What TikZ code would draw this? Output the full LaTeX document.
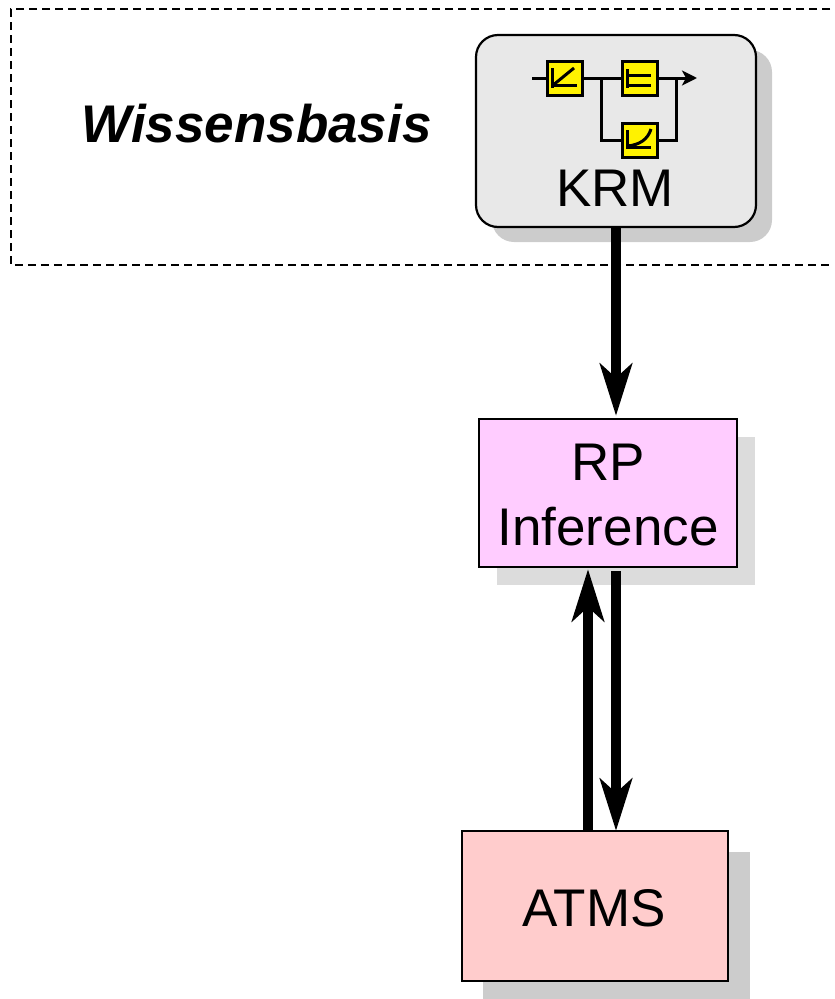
\documentclass[tikz,border=0pt]{standalone}
\usepackage{fontspec}
\setmainfont{Liberation Sans}
\usetikzlibrary{arrows.meta}

\begin{document}
\begin{tikzpicture}[x=1pt,y=-1pt,
box/.style={shape=rectangle,draw=black,line width=2.2pt,inner sep=0pt,align=center,font=\fontsize{53}{65}\selectfont},
rpbox/.style={box,fill=rpfill,minimum width=258pt,minimum height=148pt},
atmsbox/.style={box,fill=atmsfill,minimum width=266pt,minimum height=150pt},
krmbox/.style={box,fill=krmfill,rounded corners=22pt,minimum width=280pt,minimum height=192pt},
ctrl/.style={shape=rectangle,draw=black,line width=3pt,fill=yellow,inner sep=0pt,minimum width=35pt,minimum height=34pt},
icon/.style={line width=3pt},
flow/.style={line width=10pt,-{Stealth[length=52pt,width=32pt,inset=14pt]}},
wire/.style={line width=3pt},
wireend/.style={wire,-{Stealth[length=15pt,width=15pt,inset=4pt]}}]
\definecolor{rpfill}{HTML}{FFCCFF}
\definecolor{atmsfill}{HTML}{FFCCCC}
\definecolor{krmfill}{HTML}{E8E8E8}
\definecolor{shadowa}{HTML}{CCCCCC}
\definecolor{shadowb}{HTML}{DCDCDC}

\useasboundingbox (0,0) rectangle (835,999);

% knowledge base frame
\draw[line width=1.5pt,dash pattern=on 8pt off 5pt] (830,9) -- (11,9) -- (11,265) -- (830,265);
\node[anchor=west,font=\fontsize{53}{60}\selectfont\bfseries\itshape] (wb) at (78,124) {Wissensbasis};

% shadows
\fill[shadowa,rounded corners=22pt] (492,50) rectangle (772,242);
\fill[shadowb] (497,437) rectangle (755,585);
\fill[shadowa] (483,852) rectangle (750,999);

\node[krmbox] (krm) at (616,131) {};
\node[font=\fontsize{53}{60}\selectfont] (krmtext) at (615,188) {KRM};
\node[rpbox] (rp) at (608,493) {};
\node[font=\fontsize{53}{65}\selectfont,align=center] (rptext) at (608,495) {RP\\Inference};
\node[atmsbox] (atms) at (595,906) {};
\node[font=\fontsize{53}{60}\selectfont] (atmstext) at (594,908) {ATMS};

% arrows between the boxes
\draw[flow,shorten >=2pt] (krm.south) -- (krm.south |- rp.north);
\coordinate (up) at (588,831);
\draw[flow,shorten >=1pt] (up) -- (up |- rp.south);
\draw[flow,shorten <=3pt,shorten >=-1pt] (krm.south |- rp.south) -- (krm.south |- atms.north);

% small block diagram
\coordinate (in) at (532,78);
\coordinate (out) at (697,78);
\coordinate (ba) at (601,78);
\coordinate (bb) at (676,78);
\node[ctrl] (c1) at (564.5,78.5) {};
\node[ctrl] (c2) at (639.5,78.5) {};
\node[ctrl] (c3) at (639.5,140) {};
\draw[wire] (in) -- (c1.west |- in);
\draw[wire] (c1.east |- ba) -- (c2.west |- ba);
\draw[wireend] (c2.east |- bb) -- (out);
\draw[wire] (ba) -- (ba |- c3.west) -- (c3.west);
\draw[wire] (c3.east) -- (bb |- c3.east) -- (bb);

% icons in the blocks
\draw[icon] (552,68) -- (552,88);
\draw[icon] (551,85) -- (577,85);
\draw[icon] (552,86) -- (574,68);
\draw[icon] (627,69) -- (627,88);
\draw[icon] (627,75) -- (651,75);
\draw[icon] (626,85) -- (651,85);
\draw[icon] (627,130) -- (627,149);
\draw[icon] (626,147) -- (651,147);
\draw[icon] (627,146) .. controls (640,145) and (648,139) .. (651,129);
\end{tikzpicture}
\end{document}
